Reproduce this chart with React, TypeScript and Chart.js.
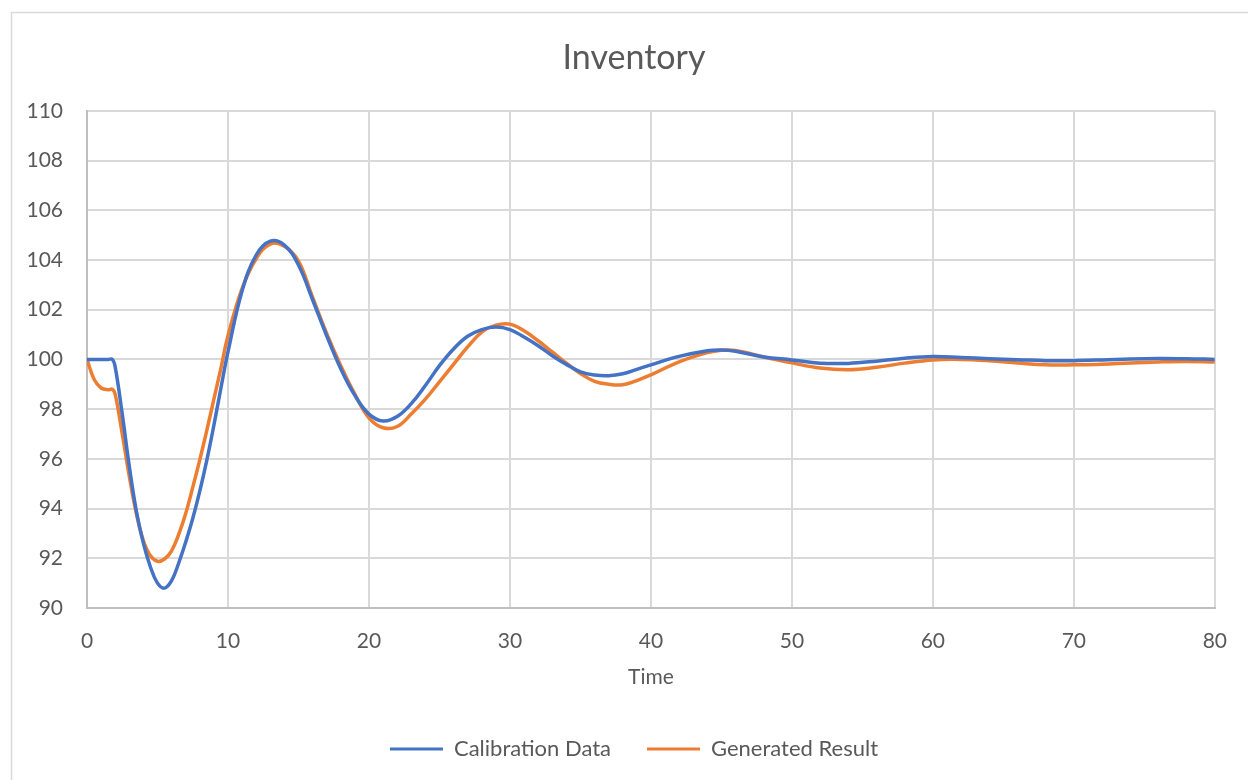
import { useEffect, useRef } from 'react';
import { Chart, registerables } from 'chart.js';

Chart.register(...registerables);

const TITLE = 'Inventory';
const X_TITLE = 'Time';
const SERIES_NAMES = ['Calibration Data', 'Generated Result'];

const TIME = [
  0, 0.5, 1, 1.5, 1.8, 2, 2.5, 3, 3.5, 4, 4.5, 5, 5.5, 6, 6.5, 7, 7.5, 8, 8.5, 9, 9.5, 10,
  11, 12, 13, 14, 15, 16, 17, 18, 19, 20, 21, 22, 23, 24, 25, 26, 27, 28, 29, 30,
  31, 32, 33, 34, 35, 36, 37, 38, 39, 40, 42, 44, 45, 46, 48, 50, 52, 54, 56, 58, 60,
  62, 64, 66, 68, 70, 72, 74, 76, 78, 80,
];

const CALIBRATION = [
  100, 100, 100, 100, 100, 99.7, 97.8, 95.7, 93.9, 92.6, 91.65, 91.0, 90.8, 91.1, 91.8, 92.65, 93.6, 94.7, 95.95, 97.35, 98.85, 100.3,
  102.75, 104.2, 104.76, 104.6, 103.8, 102.4, 100.95, 99.62, 98.55, 97.8, 97.52, 97.7, 98.22, 98.95, 99.75, 100.42, 100.93, 101.2, 101.3, 101.2,
  100.9, 100.55, 100.15, 99.8, 99.5, 99.37, 99.34, 99.42, 99.6, 99.78, 100.12, 100.35, 100.38, 100.33, 100.1, 99.98, 99.85, 99.84, 99.93, 100.05, 100.12,
  100.08, 100.03, 99.99, 99.95, 99.95, 99.98, 100.02, 100.04, 100.03, 100.0,
];

const GENERATED = [
  100, 99.2, 98.85, 98.78, 98.8, 98.6, 97.0, 95.3, 93.8, 92.7, 92.1, 91.88, 91.97, 92.3, 92.95, 93.8, 94.85, 95.96, 97.15, 98.4, 99.65, 100.95,
  102.85, 104.05, 104.64, 104.55, 103.95, 102.5, 101.05, 99.75, 98.6, 97.65, 97.25, 97.3, 97.8, 98.4, 99.1, 99.8, 100.5, 101.1, 101.38, 101.42,
  101.15, 100.75, 100.3, 99.85, 99.43, 99.12, 99.0, 98.98, 99.15, 99.38, 99.9, 100.27, 100.37, 100.36, 100.1, 99.86, 99.65, 99.58, 99.68, 99.85, 99.98,
  100.0, 99.95, 99.86, 99.78, 99.78, 99.8, 99.86, 99.9, 99.92, 99.9,
];

const X_MIN = 0;
const X_MAX = 80;
const X_STEP = 10;
const Y_MIN = 90;
const Y_MAX = 110;
const Y_STEP = 2;

const COLORS = ['#4472C4', '#ED7D31'];
const TEXT = '#595959';
const FONT = 'Lato, "Open Sans", sans-serif';

const framePlugin = {
  id: 'frame',
  beforeDraw(chart: any) {
    const { ctx, width, height } = chart;
    ctx.save();
    ctx.fillStyle = '#ffffff';
    ctx.fillRect(0, 0, width, height);
    ctx.strokeStyle = '#d9d9d9';
    ctx.lineWidth = 1.5;
    ctx.strokeRect(11.5, 12.5, width + 20, height + 20);
    ctx.restore();
  },
};

export default function App() {
  const ref = useRef<HTMLCanvasElement>(null);

  useEffect(() => {
    document.body.style.margin = '0';
    const canvas = ref.current;
    if (!canvas) return;
    const toPts = (ys: number[]) => TIME.map((t, i) => ({ x: t, y: ys[i] }));
    const chart = new Chart(canvas, {
      type: 'line',
      data: {
        datasets: [CALIBRATION, GENERATED].map((ys, i) => ({
          label: SERIES_NAMES[i],
          data: toPts(ys),
          borderColor: COLORS[i],
          backgroundColor: COLORS[i],
          borderWidth: 3.5,
          pointRadius: 0,
          tension: 0.4,
          fill: false,
          yAxisID: 'y',
        })),
      },
      options: {
        animation: false,
        responsive: false,
        maintainAspectRatio: false,
        layout: { padding: { left: 20, right: 0, top: 0, bottom: 10 } },
        plugins: {
          title: {
            display: true,
            text: TITLE,
            color: TEXT,
            font: { family: FONT, size: 34, weight: 'normal' },
            padding: { top: 38, bottom: 32 },
          },
          legend: {
            position: 'bottom',
            labels: {
              color: TEXT,
              font: { family: FONT, size: 22 },
              boxWidth: 53,
              boxHeight: 3,
              padding: 36,
              generateLabels: (c: any) =>
                c.data.datasets.map((ds: any, i: number) => ({
                  text: ds.label,
                  fillStyle: ds.borderColor,
                  strokeStyle: ds.borderColor,
                  lineWidth: 0,
                  hidden: false,
                  datasetIndex: i,
                  fontColor: TEXT,
                })),
            },
          },
          tooltip: { enabled: false },
        },
        scales: {
          x: {
            type: 'linear',
            min: X_MIN,
            max: X_MAX,
            ticks: { stepSize: X_STEP, color: TEXT, font: { family: FONT, size: 21 }, padding: 21 },
            grid: { color: '#d9d9d9', lineWidth: 2, drawTicks: false },
            border: { color: '#bfbfbf', width: 2 },
            title: { display: true, text: X_TITLE, color: TEXT, font: { family: FONT, size: 21 }, padding: { top: -10.8, bottom: 12.4 } },
          },
          y: {
            type: 'linear',
            position: 'left',
            min: Y_MIN,
            max: Y_MAX,
            ticks: { stepSize: Y_STEP, color: TEXT, font: { family: FONT, size: 21 }, padding: 24 },
            grid: { color: '#d9d9d9', lineWidth: 2, drawTicks: false },
            border: { color: '#bfbfbf', width: 2 },
            afterFit: (s: any) => {
              s.width = 67;
            },
          },
          y2: {
            type: 'linear',
            position: 'right',
            min: 0,
            max: 1,
            ticks: { display: false },
            grid: { display: false, drawTicks: false },
            border: { display: false },
            afterFit: (s: any) => {
              s.width = 25;
            },
          },
        },
      },
      plugins: [framePlugin],
    });
    return () => chart.destroy();
  }, []);

  return <canvas ref={ref} width={1248} height={780} style={{ display: 'block', width: 1248, height: 780 }} />;
}
